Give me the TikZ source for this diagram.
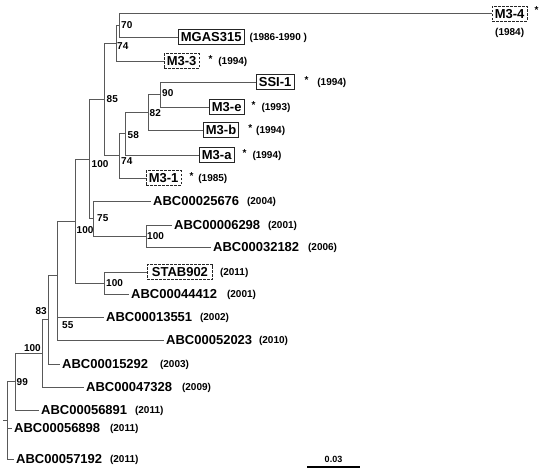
\documentclass[tikz,border=0pt]{standalone}
\usepackage{fontspec}
\setmainfont{Liberation Sans}
\usetikzlibrary{positioning}

\begin{document}
\begin{tikzpicture}[x=1pt, y=-1pt,
    branch/.style={draw=black!65, line width=0.7pt},
    taxon/.style={anchor=west, font=\bfseries\fontsize{13}{13}\selectfont, inner xsep=2.5pt, inner ysep=2.8pt, text height=9.4pt, text depth=0pt},
    solidbox/.style={taxon, draw=black!85, line width=0.8pt},
    dashbox/.style={taxon, draw=black!85, line width=0.7pt, dash pattern=on 2.5pt off 1.5pt},
    year/.style={font=\bfseries\fontsize{10}{10}\selectfont, inner sep=0pt, text height=7.2pt, text depth=0pt},
    boot/.style={font=\bfseries\fontsize{10}{10}\selectfont, inner sep=0pt, text height=7.2pt, text depth=0pt, anchor=west}]
    \useasboundingbox (0,0) rectangle (545,474);

    % Internal nodes
    \coordinate (nB) at (119,25.5);
    \coordinate (nA) at (116,43);
    \coordinate (nH) at (160,94.5);
    \coordinate (nG) at (148,112);
    \coordinate (nF) at (125,133.5);
    \coordinate (nE) at (119,155.5);
    \coordinate (nC) at (104,99);
    \coordinate (nJ) at (146,236);
    \coordinate (nI) at (93,218.5);
    \coordinate (nD) at (89,159);
    \coordinate (nL) at (104,283);
    \coordinate (nK) at (75,221);
    \coordinate (nN) at (57,328.5);
    \coordinate (nM) at (57,275);
    \coordinate (nP) at (48,319.5);
    \coordinate (nQ) at (42,353);
    \coordinate (nR) at (15,381.5);
    \coordinate (nS) at (7,420);
    \coordinate (stub) at (3,420);

    % Taxa
    \node[dashbox] (m34) at (492,13.5) {M3-4};
    \node[solidbox] (mgas) at (178,37) {MGAS315};
    \node[dashbox] (m33) at (164,61) {M3-3};
    \node[solidbox] (ssi1) at (256,82) {SSI-1};
    \node[solidbox] (m3e) at (209,107) {M3-e};
    \node[solidbox] (m3b) at (203,130) {M3-b};
    \node[solidbox] (m3a) at (199,155) {M3-a};
    \node[dashbox] (m31) at (146,178) {M3-1};
    \node[taxon] (abc25676) at (150.5,201) {ABC00025676};
    \node[taxon] (abc06298) at (171.5,225) {ABC00006298};
    \node[taxon] (abc32182) at (210.5,247) {ABC00032182};
    \node[dashbox, inner xsep=4.5pt] (stab) at (147,272) {STAB902};
    \node[taxon] (abc44412) at (128.5,294) {ABC00044412};
    \node[taxon] (abc13551) at (103.5,317) {ABC00013551};
    \node[taxon] (abc52023) at (163.5,340) {ABC00052023};
    \node[taxon] (abc15292) at (59.5,364) {ABC00015292};
    \node[taxon] (abc47328) at (83.5,387) {ABC00047328};
    \node[taxon] (abc56891) at (38.5,410) {ABC00056891};
    \node[taxon] (abc56898) at (11.5,428) {ABC00056898};
    \node[taxon] (abc57192) at (13.5,459) {ABC00057192};

    % Years
    \node[year, right=7pt of m34, yshift=3.5pt] (sm34) {*};
    \node[year, below=7pt of m34] (ym34) {(1984)};
    \node[year, right=5pt of mgas] (ymgas) {(1986-1990 )};
    \node[year, right=9pt of m33] (ym33) {\raisebox{2pt}{*}\hspace{6pt}(1994)};
    \node[year, right=10pt of ssi1] (yssi1) {\raisebox{2pt}{*}\hspace{9pt}(1994)};
    \node[year, right=7pt of m3e] (ym3e) {\raisebox{2pt}{*}\hspace{6pt}(1993)};
    \node[year, right=9pt of m3b] (ym3b) {\raisebox{2pt}{*}\hspace{4pt}(1994)};
    \node[year, right=8pt of m3a] (ym3a) {\raisebox{2pt}{*}\hspace{6pt}(1994)};
    \node[year, right=8pt of m31] (ym31) {\raisebox{2pt}{*}\hspace{5pt}(1985)};
    \node[year, right=5pt of abc25676] (y25676) {(2004)};
    \node[year, right=5pt of abc06298] (y06298) {(2001)};
    \node[year, right=6pt of abc32182] (y32182) {(2006)};
    \node[year, right=7pt of stab] (ystab) {(2011)};
    \node[year, right=7pt of abc44412] (y44412) {(2001)};
    \node[year, right=5pt of abc13551] (y13551) {(2002)};
    \node[year, right=4pt of abc52023] (y52023) {(2010)};
    \node[year, right=9pt of abc15292] (y15292) {(2003)};
    \node[year, right=7pt of abc47328] (y47328) {(2009)};
    \node[year, right=5pt of abc56891] (y56891) {(2011)};
    \node[year, right=7pt of abc56898] (y56898) {(2011)};
    \node[year, right=5pt of abc57192] (y57192) {(2011)};

    % Branches
    \draw[branch] (nB) |- (m34.west);
    \draw[branch] (nB) |- (mgas.west);
    \draw[branch] (nA) |- (nB);
    \draw[branch] (nA) |- (m33.west);
    \draw[branch] (nH) |- (ssi1.west);
    \draw[branch] (nH) |- (m3e.west);
    \draw[branch] (nG) |- (nH);
    \draw[branch] (nG) |- (m3b.west);
    \draw[branch] (nF) |- (nG);
    \draw[branch] (nF) |- (m3a.west);
    \draw[branch] (nE) |- (nF);
    \draw[branch] (nE) |- (m31.west);
    \draw[branch] (nC) |- (nA);
    \draw[branch] (nC) |- (nE);
    \draw[branch] (nJ) |- (abc06298.west);
    \draw[branch] (nJ) |- (abc32182.west);
    \draw[branch] (nI) |- (abc25676.west);
    \draw[branch] (nI) |- (nJ);
    \draw[branch] (nD) |- (nC);
    \draw[branch] (nD) |- (nI);
    \draw[branch] (nL) |- (stab.west);
    \draw[branch] (nL) |- (abc44412.west);
    \draw[branch] (nK) |- (nD);
    \draw[branch] (nK) |- (nL);
    \draw[branch] (nN) |- (abc13551.west);
    \draw[branch] (nN) |- (abc52023.west);
    \draw[branch] (nM) |- (nK);
    \draw[branch] (nM) |- (nN);
    \draw[branch] (nP) |- (nM);
    \draw[branch] (nP) |- (abc15292.west);
    \draw[branch] (nQ) |- (nP);
    \draw[branch] (nQ) |- (abc47328.west);
    \draw[branch] (nR) |- (nQ);
    \draw[branch] (nR) |- (abc56891.west);
    \draw[branch] (nS) |- (nR);
    \draw[branch] (nS) |- (abc56898.west);
    \draw[branch] (nS) |- (abc57192.west);
    \draw[branch] (stub) -- (nS);

    % Bootstrap values
    \node[boot] (bB) at (121,25) {70};
    \node[boot] (bA) at (117,45.5) {74};
    \node[boot] (bC) at (106.5,98.5) {85};
    \node[boot] (bH) at (162,93) {90};
    \node[boot] (bG) at (149.5,113) {82};
    \node[boot] (bF) at (127.5,135) {58};
    \node[boot] (bE) at (121,160.5) {74};
    \node[boot] (bD) at (91.5,164) {100};
    \node[boot] (bI) at (97,218) {75};
    \node[boot] (bJ) at (147,236) {100};
    \node[boot] (bL) at (106,283) {100};
    \node[boot] (bK) at (76.5,230) {100};
    \node[boot] (bN) at (62,325) {55};
    \node[boot, anchor=east] (bP) at (47,311) {83};
    \node[boot, anchor=east] (bQ) at (41,348) {100};
    \node[boot] (bR) at (16.5,381.5) {99};

    % Scale bar
    \coordinate (sbL) at (307,467);
    \coordinate (sbR) at (360,467);
    \draw[line width=1.3pt] (sbL) -- (sbR) node[midway, above=4pt, font=\bfseries\fontsize{9}{9}\selectfont, inner sep=0pt] (sbText) {0.03};
\end{tikzpicture}
\end{document}
